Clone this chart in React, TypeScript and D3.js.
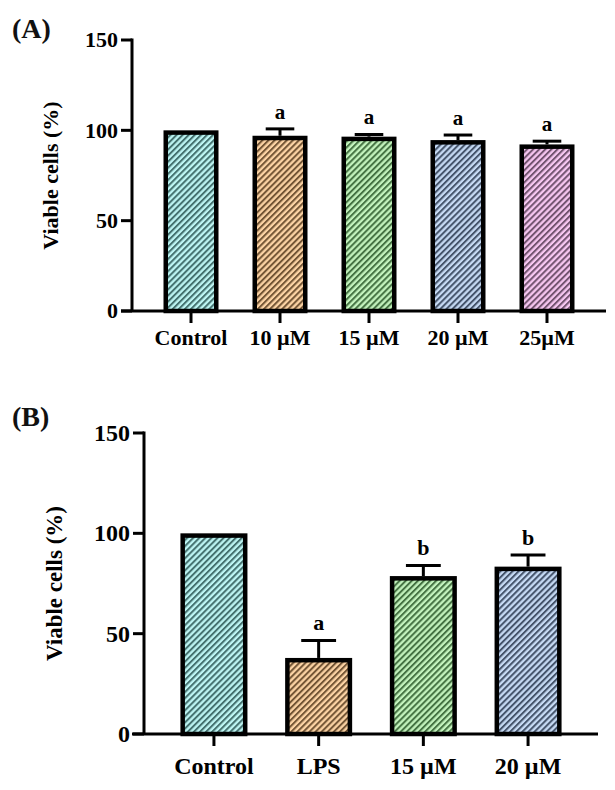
import React from 'react';
import * as d3 from 'd3';

// ---------- data ----------
const categoriesA = ['Control', '10 µM', '15 µM', '20 µM', '25µM'];
const valuesA = [100, 97, 96.5, 94.6, 92.2];
const errorsA = [0, 3.8, 1.2, 2.8, 1.8];
const lettersA = ['', 'a', 'a', 'a', 'a'];

const categoriesB = ['Control', 'LPS', '15 µM', '20 µM'];
const valuesB = [100, 37.9, 78.7, 83.4];
const errorsB = [0, 8.7, 5.3, 5.8];
const lettersB = ['', 'a', 'b', 'b'];

const yTicks = [0, 50, 100, 150];
const yDomain = [0, 150];
const yTitle = 'Viable cells (%)';

const fillColors = ['#bdf5f3', '#fcd3a4', '#c3f3bd', '#c6daf4', '#f7c7f1'];
const hatchColors = ['#44716f', '#735535', '#457343', '#45546b', '#735470'];

const FONT = '"Liberation Serif", "Times New Roman", serif';

type PanelProps = {
  id: string;
  label: string;
  categories: string[];
  values: number[];
  errors: number[];
  letters: string[];
  x0: number;
  x1: number;
  xAxisStart: number;
  yTop: number;
  yBottom: number;
  paddingInner: number;
  paddingOuter: number;
  labelY: number;
  titleX: number;
  xLabelOffset: number;
  fontSize: number;
  titleSize: number;
  letterSize: number;
};

function Panel(p: PanelProps) {
  const x = d3
    .scaleBand<string>()
    .domain(p.categories)
    .range([p.x0, p.x1])
    .paddingInner(p.paddingInner)
    .paddingOuter(p.paddingOuter)
    .align(0.5);
  const y = d3.scaleLinear().domain(yDomain).range([p.yBottom, p.yTop]);
  const bw = x.bandwidth();
  const sw = 4.5;
  const capW = bw * 0.52;
  return (
    <g>
      <defs>
        {p.categories.map((_, i) => (
          <pattern
            key={i}
            id={`${p.id}-hatch-${i}`}
            patternUnits="userSpaceOnUse"
            width={4.3}
            height={10}
            patternTransform="rotate(45)"
          >
            <rect x={0} y={0} width={4.3} height={10} fill={fillColors[i]} />
            <rect x={0} y={0} width={2} height={10} fill={hatchColors[i]} />
          </pattern>
        ))}
      </defs>
      <text x={12} y={p.labelY} fontFamily={FONT} fontWeight="bold" fontSize={28} fill="#111">
        {p.label}
      </text>
      {p.categories.map((c, i) => {
        const bx = x(c)!;
        const top = y(p.values[i]);
        return (
          <rect
            key={c}
            x={bx + sw / 2}
            y={top + sw / 2}
            width={bw - sw}
            height={y(0) - top - sw / 2}
            fill={`url(#${p.id}-hatch-${i})`}
            stroke="#000"
            strokeWidth={sw}
          />
        );
      })}
      {p.categories.map((c, i) => {
        if (!p.errors[i]) return null;
        const cx = x(c)! + bw / 2;
        const top = y(p.values[i]);
        const et = y(p.values[i] + p.errors[i]);
        return (
          <g key={c} stroke="#000" strokeWidth={3}>
            <line x1={cx} x2={cx} y1={top} y2={et} />
            <line x1={cx - capW / 2} x2={cx + capW / 2} y1={et} y2={et} />
          </g>
        );
      })}
      {p.categories.map((c, i) =>
        p.letters[i] ? (
          <text
            key={c}
            x={x(c)! + bw / 2}
            y={y(p.values[i] + p.errors[i]) - 10}
            textAnchor="middle"
            fontFamily={FONT}
            fontWeight="bold"
            fontSize={p.letterSize}
            fill="#000"
          >
            {p.letters[i]}
          </text>
        ) : null
      )}
      <line x1={p.x0} x2={p.x0} y1={p.yTop - 1.5} y2={p.yBottom} stroke="#000" strokeWidth={3} />
      {yTicks.map((t) => (
        <g key={t}>
          <line x1={p.x0 - 11} x2={p.x0} y1={y(t)} y2={y(t)} stroke="#000" strokeWidth={3} />
          <text
            x={p.x0 - 14}
            y={y(t)}
            dy="0.34em"
            textAnchor="end"
            fontFamily={FONT}
            fontWeight="bold"
            fontSize={p.fontSize}
            fill="#000"
          >
            {t}
          </text>
        </g>
      ))}
      <line x1={p.xAxisStart} x2={p.x1} y1={p.yBottom} y2={p.yBottom} stroke="#000" strokeWidth={3} />
      {p.categories.map((c) => {
        const cx = x(c)! + bw / 2;
        return (
          <g key={c}>
            <line x1={cx} x2={cx} y1={p.yBottom} y2={p.yBottom + 12} stroke="#000" strokeWidth={3} />
            <text
              x={cx}
              y={p.yBottom + p.xLabelOffset}
              textAnchor="middle"
              fontFamily={FONT}
              fontWeight="bold"
              fontSize={p.fontSize}
              fill="#000"
            >
              {c}
            </text>
          </g>
        );
      })}
      <text
        transform={`translate(${p.titleX},${(p.yTop + p.yBottom) / 2}) rotate(-90)`}
        textAnchor="middle"
        fontFamily={FONT}
        fontWeight="bold"
        fontSize={p.titleSize}
        fill="#000"
      >
        {yTitle}
      </text>
    </g>
  );
}

export default function App() {
  return (
    <svg
      width={615}
      height={790}
      style={{ position: 'absolute', left: 0, top: 0, background: '#fff' }}
    >
      <rect width={615} height={790} fill="#fff" />
      <Panel
        id="A"
        label="(A)"
        categories={categoriesA}
        values={valuesA}
        errors={errorsA}
        letters={lettersA}
        x0={132}
        x1={606}
        xAxisStart={121}
        yTop={40}
        yBottom={311}
        paddingInner={0.382}
        paddingOuter={0.354}
        labelY={38}
        titleX={58}
        xLabelOffset={34}
        fontSize={22}
        titleSize={22}
        letterSize={21}
      />
      <Panel
        id="B"
        label="(B)"
        categories={categoriesB}
        values={valuesB}
        errors={errorsB}
        letters={lettersB}
        x0={144}
        x1={598}
        xAxisStart={132}
        yTop={433}
        yBottom={734}
        paddingInner={0.36}
        paddingOuter={0.348}
        labelY={426}
        titleX={62}
        xLabelOffset={40}
        fontSize={24}
        titleSize={23}
        letterSize={22}
      />
    </svg>
  );
}
